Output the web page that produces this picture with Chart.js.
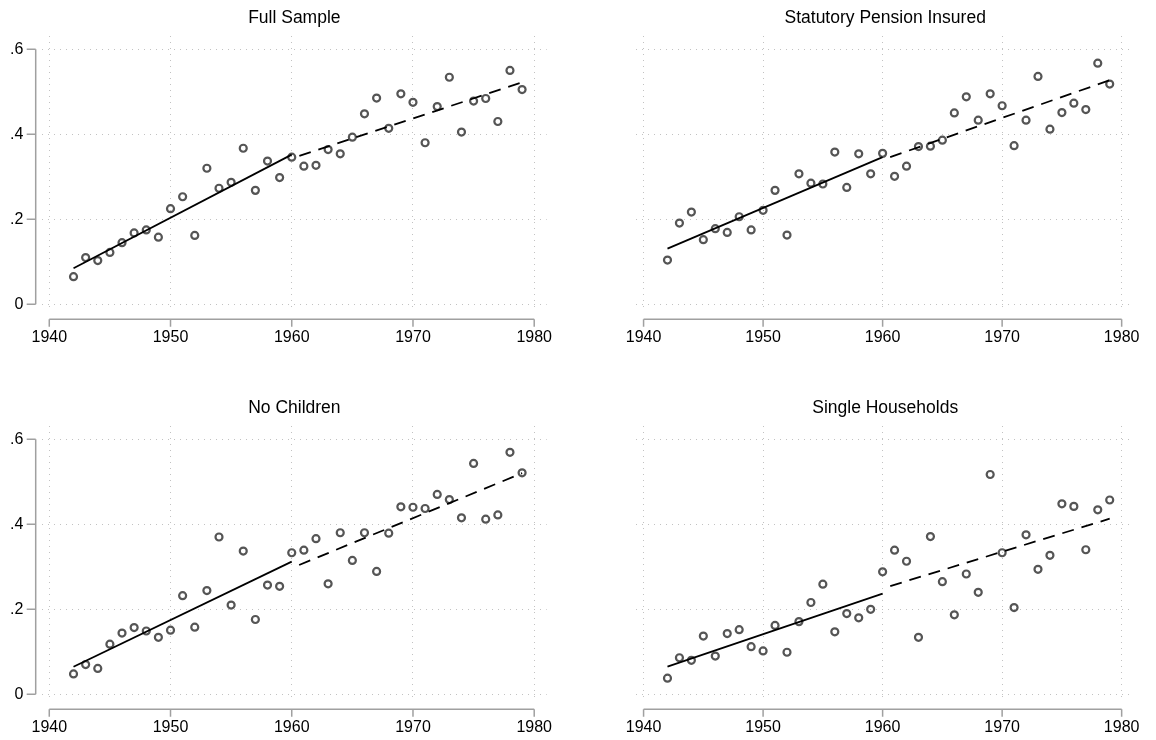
<!DOCTYPE html>
<html>
<head>
<meta charset="utf-8">
<script src="https://cdn.jsdelivr.net/npm/chart.js@4.4.0/dist/chart.umd.min.js"></script>
<style>
    html, body { margin: 0; padding: 0; background: #fff; }
    #wrap { position: relative; width: 1156px; height: 740px; overflow: hidden; }
    canvas { position: absolute; }
</style>
</head>
<body>
<div id="wrap">
    <canvas id="c1" width="578" height="370" style="left:0;top:0"></canvas>
    <canvas id="c2" width="578" height="370" style="left:578px;top:0"></canvas>
    <canvas id="c3" width="578" height="370" style="left:0;top:370px"></canvas>
    <canvas id="c4" width="578" height="370" style="left:578px;top:370px"></canvas>
</div>
<script>
// cohorts on the x axis
const years = [1942, 1943, 1944, 1945, 1946, 1947, 1948, 1949, 1950, 1951,
               1952, 1953, 1954, 1955, 1956, 1957, 1958, 1959, 1960, 1961,
               1962, 1963, 1964, 1965, 1966, 1967, 1968, 1969, 1970, 1971,
               1972, 1973, 1974, 1975, 1976, 1977, 1978, 1979];

const xTicks = [1940, 1950, 1960, 1970, 1980];
const yTicks = [0, 0.2, 0.4, 0.6];

const titles = ['Full Sample', 'Statutory Pension Insured', 'No Children', 'Single Households'];

const fullSample = [0.065, 0.110, 0.103, 0.122, 0.145, 0.168, 0.175, 0.158, 0.225, 0.253,
                    0.162, 0.320, 0.273, 0.287, 0.367, 0.268, 0.337, 0.298, 0.346, 0.325,
                    0.327, 0.364, 0.354, 0.393, 0.448, 0.485, 0.414, 0.495, 0.475, 0.380,
                    0.465, 0.534, 0.405, 0.478, 0.484, 0.430, 0.550, 0.505];

const pensionInsured = [0.104, 0.191, 0.217, 0.152, 0.178, 0.169, 0.206, 0.175, 0.221, 0.268,
                        0.163, 0.307, 0.285, 0.283, 0.358, 0.275, 0.354, 0.307, 0.355, 0.301,
                        0.325, 0.371, 0.372, 0.386, 0.450, 0.488, 0.433, 0.495, 0.467, 0.373,
                        0.433, 0.536, 0.412, 0.451, 0.473, 0.458, 0.567, 0.518];

const noChildren = [0.048, 0.070, 0.061, 0.118, 0.144, 0.157, 0.149, 0.134, 0.151, 0.232,
                    0.158, 0.244, 0.370, 0.210, 0.337, 0.176, 0.257, 0.254, 0.333, 0.339,
                    0.366, 0.260, 0.380, 0.315, 0.380, 0.289, 0.379, 0.441, 0.440, 0.437,
                    0.470, 0.458, 0.415, 0.543, 0.412, 0.422, 0.569, 0.521];

const singleHouseholds = [0.038, 0.086, 0.080, 0.137, 0.090, 0.143, 0.152, 0.112, 0.102, 0.162,
                          0.099, 0.171, 0.216, 0.259, 0.147, 0.190, 0.180, 0.200, 0.288, 0.339,
                          0.313, 0.134, 0.371, 0.265, 0.187, 0.283, 0.240, 0.517, 0.333, 0.204,
                          0.375, 0.294, 0.327, 0.448, 0.442, 0.340, 0.434, 0.457];

// linear fits: before and after 1960
const fitBeforeYears = [1942, 1960];
const fitAfterYears = [1960, 1979];
const fitBefore = [[0.085, 0.352], [0.131, 0.346], [0.065, 0.312], [0.065, 0.237]];
const fitAfter = [[0.343, 0.522], [0.340, 0.527], [0.297, 0.520], [0.249, 0.413]];

const seriesList = [fullSample, pensionInsured, noChildren, singleHouseholds];

const FONT = "'Liberation Sans', Arial, sans-serif";
const gridColor = '#c2c2c2';
const axisColor = '#a0a0a0';

// panel frames inside each 578x370 canvas
const panels = [
    { id: 'c1', left: 42,   right: 546.7, top: 36, bottom: 312, showY: true },
    { id: 'c2', left: 58.4, right: 563.2, top: 36, bottom: 312, showY: false },
    { id: 'c3', left: 42,   right: 546.7, top: 56, bottom: 332, showY: true },
    { id: 'c4', left: 58.4, right: 563.2, top: 56, bottom: 332, showY: false }
];

// Stata-like axes, set apart from the plot region
const offsetAxes = {
    id: 'offsetAxes',
    afterDraw(chart, args, opts) {
        const ctx = chart.ctx;
        const area = chart.chartArea;
        const xs = chart.scales.x;
        const ys = chart.scales.y;
        ctx.save();
        ctx.strokeStyle = axisColor;
        ctx.lineWidth = 1.5;
        ctx.beginPath();
        const yLine = area.bottom + 7.3;
        ctx.moveTo(xs.getPixelForValue(xTicks[0]), yLine);
        ctx.lineTo(xs.getPixelForValue(xTicks[xTicks.length - 1]), yLine);
        xTicks.forEach(v => {
            const px = xs.getPixelForValue(v);
            ctx.moveTo(px, yLine);
            ctx.lineTo(px, yLine + 7.5);
        });
        if (opts.showY) {
            const xLine = area.left - 6.3;
            ctx.moveTo(xLine, ys.getPixelForValue(yTicks[0]));
            ctx.lineTo(xLine, ys.getPixelForValue(yTicks[yTicks.length - 1]));
            yTicks.forEach(v => {
                const py = ys.getPixelForValue(v);
                ctx.moveTo(xLine, py);
                ctx.lineTo(xLine - 9, py);
            });
        }
        ctx.stroke();
        ctx.restore();
    }
};

function formatY(v) {
    if (v === 0) return '0';
    return String(v).replace(/^0/, '');
}

function buildChart(panel, index) {
    const values = seriesList[index];
    const points = years.map((yr, i) => ({ x: yr, y: values[i] }));
    const before = fitBeforeYears.map((yr, i) => ({ x: yr, y: fitBefore[index][i] }));
    const after = fitAfterYears.map((yr, i) => ({ x: yr, y: fitAfter[index][i] }));

    const ctx = document.getElementById(panel.id).getContext('2d');
    return new Chart(ctx, {
        type: 'scatter',
        data: {
            datasets: [
                {
                    data: points,
                    pointStyle: 'circle',
                    pointRadius: 3.5,
                    pointBorderWidth: 2.2,
                    pointBorderColor: '#555555',
                    pointBackgroundColor: 'rgba(0,0,0,0)',
                    order: 2
                },
                {
                    type: 'line',
                    data: before,
                    borderColor: '#000',
                    borderWidth: 1.8,
                    pointRadius: 0,
                    fill: false,
                    order: 1
                },
                {
                    type: 'line',
                    data: after,
                    borderColor: '#000',
                    borderWidth: 1.8,
                    borderDash: [12, 8],
                    borderDashOffset: 12,
                    pointRadius: 0,
                    fill: false,
                    order: 1
                }
            ]
        },
        options: {
            responsive: false,
            animation: false,
            events: [],
            layout: {
                padding: { left: 0, right: 578 - panel.right, top: panel.top - 36, bottom: 0 }
            },
            plugins: {
                legend: { display: false },
                tooltip: { enabled: false },
                title: {
                    display: true,
                    text: titles[index],
                    fullSize: false,
                    color: '#000',
                    font: { family: FONT, size: 17.5, weight: 'normal', lineHeight: 1.2 },
                    padding: { top: 8, bottom: 7 }
                },
                offsetAxes: { showY: panel.showY }
            },
            scales: {
                x: {
                    type: 'linear',
                    min: 1939.4,
                    max: 1981.03,
                    afterBuildTicks: scale => { scale.ticks = xTicks.map(v => ({ value: v })); },
                    afterFit: scale => { scale.height = 370 - panel.bottom; },
                    border: { display: false, dash: [1, 5] },
                    grid: { color: gridColor, lineWidth: 1, drawTicks: false },
                    ticks: {
                        color: '#000',
                        font: { family: FONT, size: 16 },
                        padding: 16,
                        maxRotation: 0,
                        autoSkip: false,
                        callback: v => String(v)
                    }
                },
                y: {
                    type: 'linear',
                    min: -0.018,
                    max: 0.631,
                    afterBuildTicks: scale => { scale.ticks = yTicks.map(v => ({ value: v })); },
                    afterFit: scale => { scale.width = panel.left; },
                    border: { display: false, dash: [1, 5] },
                    grid: { color: gridColor, lineWidth: 1, drawTicks: false },
                    ticks: {
                        display: panel.showY,
                        color: '#000',
                        font: { family: FONT, size: 16 },
                        padding: panel.left - 23.3,
                        callback: v => formatY(v)
                    }
                }
            }
        },
        plugins: [offsetAxes]
    });
}

panels.forEach((p, i) => buildChart(p, i));
</script>
</body>
</html>
